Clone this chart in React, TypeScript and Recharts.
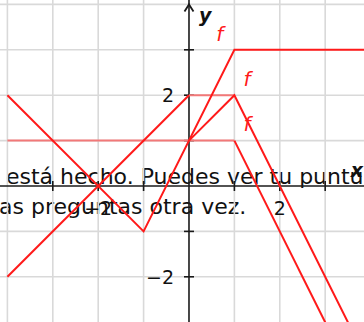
import React from 'react';
import { LineChart, Line, XAxis, YAxis, ReferenceLine, ReferenceDot } from 'recharts';

// visible window of the plane
const X_DOMAIN: [number, number] = [-4.163, 3.855];
const Y_DOMAIN: [number, number] = [-2.996, 4.097];

const gridX = [-4, -3, -2, -1, 1, 2, 3];
const gridY = [-2, -1, 1, 2, 3, 4];
const tickX = [-3, -2, -1, 1, 2, 3];
const tickY = [-2, -1, 1, 2, 3];

const xLabels = [
  { v: -2, text: '−2' },
  { v: 2, text: '2' },
];
const yLabels = [
  { v: 2, text: '2' },
  { v: -2, text: '−2' },
];

// graphs
const graphA = [
  { x: -4, y: 2 },
  { x: -1, y: -1 },
  { x: 1, y: 3 },
  { x: 4, y: 3 },
];
const graphB = [
  { x: -4, y: -2 },
  { x: 0, y: 2 },
];
const graphC = [
  { x: 0, y: 1 },
  { x: 1, y: 2 },
  { x: 4, y: -4 },
];
const graphD = [
  { x: 1, y: 1 },
  { x: 4, y: -5 },
];
const faintTop = [
  { x: 0, y: 2 },
  { x: 1, y: 2 },
];
const faintBottom = [
  { x: -4, y: 1 },
  { x: 1, y: 1 },
];

const fLabels = [
  { x: 0.6, y: 3.2 },
  { x: 1.2, y: 2.2 },
  { x: 1.2, y: 1.21 },
];

const RED = '#ff1a1a';
const PINK = '#f27878';
const GRID = '#d9d9d9';
const AXIS = '#1a1a1a';
const FONT = '"DejaVu Sans", sans-serif';

const pageText: React.CSSProperties = {
  position: 'absolute',
  whiteSpace: 'nowrap',
  fontFamily: FONT,
  fontSize: 22,
  lineHeight: '22px',
  color: '#111',
};

const lineProps = { strokeWidth: 2, dot: false, activeDot: false, isAnimationActive: false } as const;

export default function App() {
  return (
    <div style={{ position: 'fixed', left: 0, top: 0, width: 364, height: 322, overflow: 'hidden', background: '#fff' }}>
      <div style={{ ...pageText, left: 6, top: 166 }}>está hecho. Puedes ver tu puntuación</div>
      <div style={{ ...pageText, left: -7, top: 196 }}>las preguntas otra vez.</div>
      <div style={{ position: 'absolute', left: 0, top: 0 }}>
        <LineChart width={364} height={322} margin={{ top: 0, right: 0, bottom: 0, left: 0 }}>
          <XAxis type="number" dataKey="x" domain={X_DOMAIN} allowDataOverflow hide />
          <YAxis type="number" dataKey="y" domain={Y_DOMAIN} allowDataOverflow hide />

          {gridX.map((v) => (
            <ReferenceLine key={`gx${v}`} x={v} stroke={GRID} strokeWidth={1.6} />
          ))}
          {gridY.map((v) => (
            <ReferenceLine key={`gy${v}`} y={v} stroke={GRID} strokeWidth={1.6} />
          ))}

          <ReferenceLine x={0} stroke={AXIS} strokeWidth={1.6} />
          <ReferenceLine y={0} stroke={AXIS} strokeWidth={1.6} />
          {tickX.map((v) => (
            <ReferenceLine
              key={`tx${v}`}
              segment={[{ x: v, y: -0.11 }, { x: v, y: 0.11 }]}
              stroke={AXIS}
              strokeWidth={1.6}
            />
          ))}
          {tickY.map((v) => (
            <ReferenceLine
              key={`ty${v}`}
              segment={[{ x: -0.11, y: v }, { x: 0.11, y: v }]}
              stroke={AXIS}
              strokeWidth={1.6}
            />
          ))}
          <ReferenceDot
            x={0}
            y={4}
            shape={(p: any) => (
              <path
                d={`M${p.cx - 4.5},${p.cy + 7} L${p.cx},${p.cy} L${p.cx + 4.5},${p.cy + 7}`}
                fill="none"
                stroke={AXIS}
                strokeWidth={1.8}
              />
            )}
          />

          {xLabels.map((l) => (
            <ReferenceDot
              key={`xl${l.v}`}
              x={l.v}
              y={0}
              shape={(p: any) => (
                <text x={p.cx} y={p.cy + 29} textAnchor="middle" fontFamily={FONT} fontSize={19} fill="#111">
                  {l.text}
                </text>
              )}
            />
          ))}
          {yLabels.map((l) => (
            <ReferenceDot
              key={`yl${l.v}`}
              x={0}
              y={l.v}
              shape={(p: any) => (
                <text x={p.cx - 15} y={p.cy + 7} textAnchor="end" fontFamily={FONT} fontSize={19} fill="#111">
                  {l.text}
                </text>
              )}
            />
          ))}
          <ReferenceDot
            x={3.7}
            y={0}
            shape={(p: any) => (
              <text x={p.cx} y={p.cy - 9} textAnchor="middle" fontFamily={FONT} fontSize={19} fontStyle="italic" fontWeight="bold" fill="#111">
                x
              </text>
            )}
          />
          <ReferenceDot
            x={0}
            y={4}
            shape={(p: any) => (
              <text x={p.cx + 10} y={p.cy + 18} fontFamily={FONT} fontSize={19} fontStyle="italic" fontWeight="bold" fill="#111">
                y
              </text>
            )}
          />

          <Line data={faintBottom} dataKey="y" stroke={PINK} {...lineProps} />
          <Line data={faintTop} dataKey="y" stroke={PINK} {...lineProps} />
          <Line data={graphA} dataKey="y" stroke={RED} {...lineProps} />
          <Line data={graphB} dataKey="y" stroke={RED} {...lineProps} />
          <Line data={graphC} dataKey="y" stroke={RED} {...lineProps} />
          <Line data={graphD} dataKey="y" stroke={RED} {...lineProps} />

          {fLabels.map((f, i) => (
            <ReferenceDot
              key={`f${i}`}
              x={f.x}
              y={f.y}
              shape={(p: any) => (
                <text x={p.cx} y={p.cy} fontFamily={FONT} fontSize={20} fontStyle="italic" fill={RED}>
                  f
                </text>
              )}
            />
          ))}
        </LineChart>
      </div>
    </div>
  );
}
